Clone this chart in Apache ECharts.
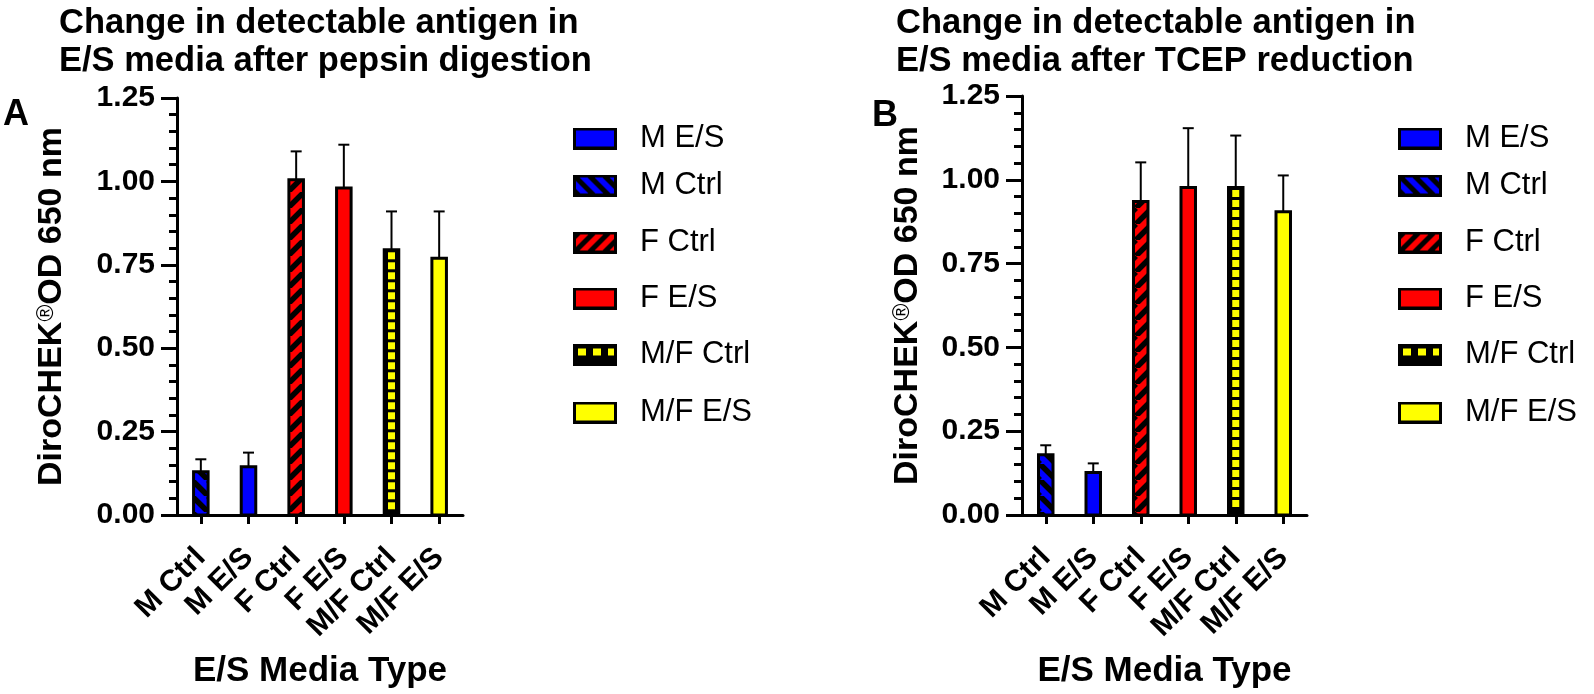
<!DOCTYPE html>
<html><head><meta charset="utf-8">
<script src="https://cdn.jsdelivr.net/npm/echarts@6/dist/echarts.min.js"></script>
<style>html,body{margin:0;padding:0;background:#fff}#c{width:1594px;height:694px}</style>
</head><body><div id="c"></div>
<script>
// ---------- data ----------
const categories = ['M Ctrl', 'M E/S', 'F Ctrl', 'F E/S', 'M/F Ctrl', 'M/F E/S'];
const legendOrder = ['M E/S', 'M Ctrl', 'F Ctrl', 'F E/S', 'M/F Ctrl', 'M/F E/S'];
const pepsinMeans  = [0.13, 0.145, 1.005, 0.98, 0.795, 0.77];
const pepsinErrors = [0.037, 0.042, 0.085, 0.13, 0.115, 0.14];
const tcepMeans    = [0.18, 0.127, 0.935, 0.977, 0.977, 0.905];
const tcepErrors   = [0.028, 0.027, 0.117, 0.177, 0.155, 0.108];
const titleA = 'Change in detectable antigen in\nE/S media after pepsin digestion';
const titleB = 'Change in detectable antigen in\nE/S media after TCEP reduction';
const yAxisTitle = '{a|DiroCHEK}{s|®}{a|OD 650 nm}';
const xAxisTitle = 'E/S Media Type';

// ---------- styles ----------
const FONT = '"Liberation Sans", Arial, Helvetica, sans-serif';
const BLUE = '#0000FF', RED = '#FF0000', YEL = '#FFFF00', BLK = '#000000';
const looks = {
  'M Ctrl':   {base: BLUE, kind: 'back'},
  'M E/S':    {base: BLUE, kind: 'solid'},
  'F Ctrl':   {base: RED,  kind: 'fwd'},
  'F E/S':    {base: RED,  kind: 'solid'},
  'M/F Ctrl': {base: BLK,  kind: 'dots', dot: YEL},
  'M/F E/S':  {base: YEL,  kind: 'solid'}
};

function stripeTile(color, dir) {
  const P = 16;
  const c = document.createElement('canvas'); c.width = P; c.height = P;
  const g = c.getContext('2d');
  g.fillStyle = color; g.fillRect(0, 0, P, P);
  g.strokeStyle = '#000'; g.lineWidth = 5.5; g.beginPath();
  for (let k = -1; k <= 1; k++) {
    if (dir === 'fwd') { g.moveTo(k * P, P); g.lineTo(k * P + P, 0); }
    else { g.moveTo(k * P, 0); g.lineTo(k * P + P, P); }
  }
  g.stroke();
  return c;
}
const fills = {};
categories.forEach(n => {
  const L = looks[n];
  if (L.kind === 'fwd' || L.kind === 'back') fills[n] = {image: stripeTile(L.base, L.kind), repeat: 'repeat'};
  else fills[n] = L.base;
});

function legendIcon(name) {
  const c = document.createElement('canvas'); c.width = 62; c.height = 22;
  const g = c.getContext('2d'); const L = looks[name];
  g.fillStyle = '#000'; g.fillRect(0, 0, 44, 22);
  g.save(); g.beginPath(); g.rect(3, 3, 38, 16); g.clip();
  if (L.kind === 'dots') {
    g.fillStyle = L.dot;
    for (let x = 5; x < 41; x += 15) g.fillRect(x, 5, 8, 7);
  } else {
    g.fillStyle = L.base; g.fillRect(3, 3, 38, 16);
    if (L.kind !== 'solid') {
      g.strokeStyle = '#000'; g.lineWidth = 5; g.beginPath();
      for (let x = -30; x < 60; x += 15) {
        if (L.kind === 'fwd') { g.moveTo(x, 22); g.lineTo(x + 22, 0); }
        else { g.moveTo(x, 0); g.lineTo(x + 22, 22); }
      }
      g.stroke();
    }
  }
  g.restore();
  return 'image://' + c.toDataURL();
}

function makeSeries(panel, means, errs) {
  return categories.map((cat, i) => ({
    type: 'custom', name: cat, xAxisIndex: panel, yAxisIndex: panel,
    data: [[i, means[i], errs[i]]],
    encode: {x: 0, y: 1},
    renderItem: (params, api) => {
      const idx = api.value(0), v = api.value(1), e = api.value(2);
      const base = api.coord([idx, 0]);
      const top = api.coord([idx, v]);
      const eTop = api.coord([idx, v + e]);
      const band = api.size([1, 0])[0];
      const w = band * 0.305;
      const cx = base[0];
      const children = [
        {type: 'line', shape: {x1: cx, y1: top[1], x2: cx, y2: eTop[1]}, style: {stroke: '#000', lineWidth: 2}},
        {type: 'line', shape: {x1: cx - 5.5, y1: eTop[1], x2: cx + 5.5, y2: eTop[1]}, style: {stroke: '#000', lineWidth: 2}},
        {type: 'rect', shape: {x: cx - w / 2, y: top[1], width: w, height: base[1] - top[1]},
         style: {fill: fills[cat], stroke: '#000', lineWidth: 3}}
      ];
      const L = looks[cat];
      if (L.kind === 'dots') {
        for (let y = top[1] + 2.5; y + 7 <= base[1] - 1.5; y += 10) {
          children.push({type: 'rect', shape: {x: cx - 3.5, y: y, width: 7, height: 7}, style: {fill: L.dot}});
        }
      }
      return {type: 'group', children};
    }
  }));
}

function yAxis(gridIndex, gap) {
  return {
    type: 'value', gridIndex, min: 0, max: 1.25, interval: 0.25,
    axisLine: {show: true, lineStyle: {color: '#000', width: 3}},
    axisTick: {show: true, length: 16, lineStyle: {color: '#000', width: 3}},
    minorTick: {show: true, splitNumber: 5, length: 8, lineStyle: {color: '#000', width: 3}},
    splitLine: {show: false}, minorSplitLine: {show: false},
    axisLabel: {color: '#000', fontSize: 30, fontWeight: 'bold', fontFamily: FONT, margin: 22,
                formatter: v => v.toFixed(2)},
    name: yAxisTitle, nameLocation: 'middle', nameGap: gap,
    nameTextStyle: {
      rich: {
        a: {fontSize: 34, fontWeight: 'bold', fontFamily: FONT, color: '#000'},
        s: {fontSize: 23, fontFamily: FONT, color: '#000', verticalAlign: 'top'}
      }
    }
  };
}
function xAxis(gridIndex) {
  return {
    type: 'category', gridIndex, data: categories, boundaryGap: true,
    axisLine: {show: true, lineStyle: {color: '#000', width: 3}},
    axisTick: {show: true, alignWithLabel: true, length: 9, lineStyle: {color: '#000', width: 3}},
    axisLabel: {rotate: 45, interval: 0, margin: 38, color: '#000', fontSize: 30, fontWeight: 'bold', fontFamily: FONT},
    splitLine: {show: false},
    name: xAxisTitle, nameLocation: 'middle', nameGap: 139,
    nameTextStyle: {fontSize: 35, fontWeight: 'bold', fontFamily: FONT, color: '#000'}
  };
}

const legendCenters = [134, 181, 238, 294, 350, 408];
function legends(left) {
  return legendOrder.map((name, k) => ({
    data: [{name, icon: legendIcon(name)}],
    left, top: legendCenters[k] - 11, orient: 'vertical',
    itemWidth: 62, itemHeight: 22, padding: 0, selectedMode: false,
    textStyle: {fontSize: 31, fontFamily: FONT, color: '#000', lineHeight: 22}
  }));
}

const titleStyle = {fontSize: 34.5, fontWeight: 'bold', fontFamily: FONT, color: '#000', lineHeight: 38};
const letterStyle = {fontSize: 36, fontWeight: 'bold', fontFamily: FONT, color: '#000', lineHeight: 36};

const chart = echarts.init(document.getElementById('c'), null, {renderer: 'canvas'});
chart.setOption({
  backgroundColor: '#fff',
  animation: false,
  title: [
    {text: titleA, left: 59, top: 4, padding: 0, textStyle: titleStyle},
    {text: titleB, left: 896, top: 4, padding: 0, textStyle: titleStyle},
    {text: 'A', left: 3, top: 97, padding: 0, textStyle: letterStyle},
    {text: 'B', left: 872, top: 98, padding: 0, textStyle: letterStyle}
  ],
  legend: legends(573).concat(legends(1398)),
  grid: [
    {left: 177, top: 98, width: 286, height: 418, containLabel: false},
    {left: 1022, top: 96, width: 285, height: 419, containLabel: false}
  ],
  xAxis: [xAxis(0), xAxis(1)],
  yAxis: [yAxis(0, 108), yAxis(1, 97)],
  series: makeSeries(0, pepsinMeans, pepsinErrors).concat(makeSeries(1, tcepMeans, tcepErrors))
});
</script>
</body></html>
